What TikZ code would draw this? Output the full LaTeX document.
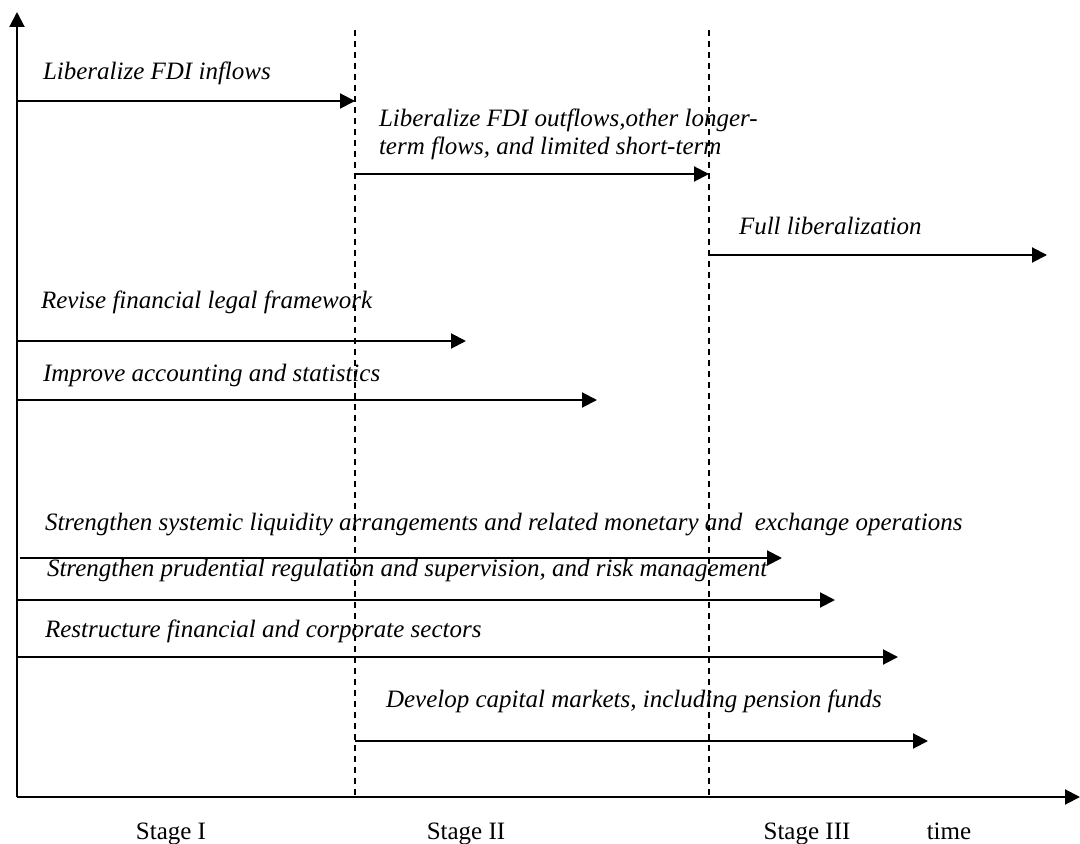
\documentclass[tikz,border=0pt]{standalone}
\usepackage{fontspec}
\setmainfont{Liberation Serif}
\usetikzlibrary{arrows.meta}

\begin{document}
\begin{tikzpicture}[x=0.5pt,y=-0.5pt,>={Triangle[length=7.5pt,width=7.5pt]},
                    line width=1pt,
                    lbl/.style={anchor=base west,inner sep=0pt,
                                font=\fontsize{12.5}{14}\selectfont\itshape},
                    stage/.style={anchor=base,inner sep=0pt,
                                  font=\fontsize{12.5}{14}\selectfont},
                    bound/.style={line width=0.75pt,dash pattern=on 3pt off 2.5pt}]

  \useasboundingbox (0,0) rectangle (1080,844);

  % axes and stage boundaries
  \coordinate (o)    at (17,797);
  \coordinate (ytop) at (17,12);
  \coordinate (xend) at (1080,797);
  \coordinate (b2top) at (355,30);
  \coordinate (b2bot) at (355,797);
  \coordinate (b3top) at (709,30);
  \coordinate (b3bot) at (709,797);

  \draw[->] (o) -- (ytop);
  \draw[->] (o) -- (xend);
  \draw[bound] (b2top) -- (b2bot);
  \draw[bound] (b3top) -- (b3bot);

  % measures
  \node[lbl] (fdiin)  at (42,80)  {Liberalize FDI inflows};
  \node[lbl,anchor=west,align=left] (fdiout) at (378,134)
        {Liberalize FDI outflows,other longer-\\term flows, and limited short-term};
  \node[lbl] (full)   at (738,235) {Full liberalization};
  \node[lbl] (legal)  at (40,309)  {Revise financial legal framework};
  \node[lbl] (acct)   at (42,381)  {Improve accounting and statistics};
  \node[lbl] (liq)    at (44,530)
        {Strengthen systemic liquidity arrangements and related monetary and\ \ exchange operations};
  \node[lbl] (prud)   at (46,576)
        {Strengthen prudential regulation and supervision, and risk management};
  \node[lbl] (restr)  at (44,637)  {Restructure financial and corporate sectors};
  \node[lbl] (capm)   at (385,707) {Develop capital markets, including pension funds};

  \coordinate (fdiin s)  at (17,101);  \coordinate (fdiin e)  at (355,101);
  \coordinate (fdiout s) at (355,174); \coordinate (fdiout e) at (709,174);
  \coordinate (full s)   at (709,255); \coordinate (full e)   at (1047,255);
  \coordinate (legal s)  at (17,341);  \coordinate (legal e)  at (466,341);
  \coordinate (acct s)   at (17,400);  \coordinate (acct e)   at (597,400);
  \coordinate (liq s)    at (20,558);  \coordinate (liq e)    at (782,558);
  \coordinate (prud s)   at (17,600);  \coordinate (prud e)   at (835,600);
  \coordinate (restr s)  at (17,657);  \coordinate (restr e)  at (898,657);
  \coordinate (capm s)   at (355,741); \coordinate (capm e)   at (928,741);

  \draw[->] (fdiin s)  -- (fdiin e);
  \draw[->] (fdiout s) -- (fdiout e);
  \draw[->] (full s)   -- (full e);
  \draw[->] (legal s)  -- (legal e);
  \draw[->] (acct s)   -- (acct e);
  \draw[->] (liq s)    -- (liq e);
  \draw[->] (prud s)   -- (prud e);
  \draw[->] (restr s)  -- (restr e);
  \draw[->] (capm s)   -- (capm e);

  % stages
  \node[stage] (st1)  at (171,839) {Stage I};
  \node[stage] (st2)  at (466,839) {Stage II};
  \node[stage] (st3)  at (807,839) {Stage III};
  \node[stage] (time) at (949,839) {time};
\end{tikzpicture}
\end{document}
